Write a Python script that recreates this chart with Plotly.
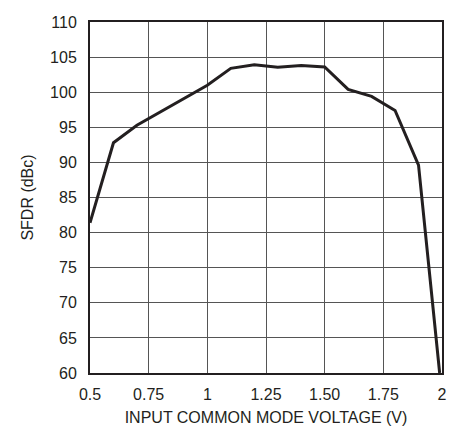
import plotly.graph_objects as go

voltage = [0.5, 0.6, 0.7, 1.0, 1.1, 1.2, 1.3, 1.4, 1.5, 1.6, 1.7, 1.8, 1.9, 1.99]
sfdr = [81.4, 92.8, 95.3, 101.0, 103.4, 103.9, 103.55, 103.8, 103.6, 100.4, 99.4, 97.4, 89.6, 60.0]

x_ticks = [0.5, 0.75, 1.0, 1.25, 1.5, 1.75, 2.0]
x_tick_labels = ["0.5", "0.75", "1", "1.25", "1.50", "1.75", "2"]
y_ticks = [60, 65, 70, 75, 80, 85, 90, 95, 100, 105, 110]

font_family = "Liberation Sans, Arial, sans-serif"

fig = go.Figure()
fig.add_trace(go.Scatter(
    x=voltage, y=sfdr, mode="lines",
    line=dict(color="#231f20", width=3),
    showlegend=False, hoverinfo="skip",
))

fig.update_layout(
    width=456, height=428,
    margin=dict(l=82, r=22, t=14, b=63, autoexpand=False),
    paper_bgcolor="white", plot_bgcolor="white",
    font=dict(family=font_family, size=16, color="#231f20"),
)
fig.update_xaxes(
    range=[0.5, 2.0], tickvals=x_ticks, ticktext=x_tick_labels,
    showgrid=True, gridcolor="#555555", gridwidth=1,
    showline=True, linecolor="#231f20", linewidth=2, mirror=True,
    ticks="", zeroline=False, ticklabelstandoff=6,
    title=dict(text="INPUT COMMON MODE VOLTAGE (V)", standoff=10, font=dict(size=16)),
    tickfont=dict(size=16), automargin=False,
)
fig.update_yaxes(
    range=[60, 110], tickvals=y_ticks,
    showgrid=True, gridcolor="#555555", gridwidth=1,
    showline=True, linecolor="#231f20", linewidth=2, mirror=True,
    ticks="", zeroline=False, ticklabelstandoff=8,
    title=dict(text="SFDR (dBc)", standoff=12, font=dict(size=16)),
    tickfont=dict(size=16), automargin=False,
)

fig.write_html("out.html")
